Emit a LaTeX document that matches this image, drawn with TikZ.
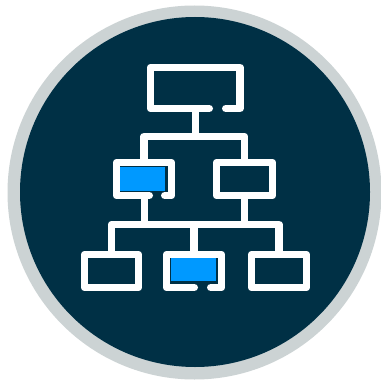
\documentclass[tikz,border=0pt]{standalone}
\definecolor{ringgray}{HTML}{CCD3D4}
\definecolor{navy}{HTML}{003045}
\definecolor{bright}{HTML}{0099FF}
\tikzset{
  wire/.style={draw=white,line width=7.6pt,line join=round},
  openend/.style={wire,line cap=round},
  boxnode/.style={rectangle,inner sep=0pt,outer sep=0pt,line width=7.6pt,line join=round},
  fullbox/.style={boxnode,draw=white},
  openbox/.style={boxnode},
  fillbox/.style={rectangle,inner sep=0pt,outer sep=0pt,fill=bright}
}
\begin{document}
\begin{tikzpicture}[x=1pt,y=-1pt]
\useasboundingbox (0,0) rectangle (380,382);
\fill[white] (0,0) rectangle (380,382);
\fill[ringgray] (194.5,192.5) circle[radius=187pt];
\fill[navy] (195,192) circle[radius=175pt];
% blue fills
\node[fillbox,minimum width=45pt,minimum height=24pt] (fillb) at (142.5,179) {};
\node[fillbox,minimum width=45pt,minimum height=23pt] (fille) at (193.5,269.5) {};
% boxes
\node[openbox,minimum width=89.5pt,minimum height=41pt] (a) at (195.25,88) {};
\node[openbox,minimum width=55pt,minimum height=33pt] (b) at (144,179) {};
\node[fullbox,minimum width=56pt,minimum height=33pt] (c) at (244.5,179) {};
\node[fullbox,minimum width=54pt,minimum height=33pt] (d) at (111.5,271) {};
\node[openbox,minimum width=55pt,minimum height=33pt] (e) at (194,271) {};
\node[fullbox,minimum width=55pt,minimum height=33pt] (f) at (279,271) {};
% open outlines with a gap in the bottom side
\coordinate (aL) at (209.2,108.5);
\coordinate (aR) at (225.8,108.5);
\coordinate (bL) at (149.2,195.5);
\coordinate (bR) at (164.8,195.5);
\coordinate (eL) at (194.2,287.5);
\coordinate (eR) at (210.8,287.5);
\draw[openend] (aL) -- (a.south west) -- (a.north west) -- (a.north east) -- (a.south east) -- (aR);
\draw[openend] (bL) -- (b.south west) -- (b.north west) -- (b.north east) -- (b.south east) -- (bR);
\draw[openend] (eL) -- (e.south west) -- (e.north west) -- (e.north east) -- (e.south east) -- (eR);
% connectors
\coordinate (j1) at (195.5,136.5);
\coordinate (j2) at (144.5,224.5);
\coordinate (j3) at (244.5,224.5);
\draw[wire] (a.south -| j1) -- (j1);
\draw[wire] (b.north) |- (j1) -| (c.north);
\draw[wire] (b.south -| j2) -- (j2);
\draw[wire] (c.south) -- (j3);
\draw[wire] (d.north) |- (j2) -- (j3) -| (f.north);
\draw[wire] (e.north) -- (e.north |- j2);
\end{tikzpicture}
\end{document}
